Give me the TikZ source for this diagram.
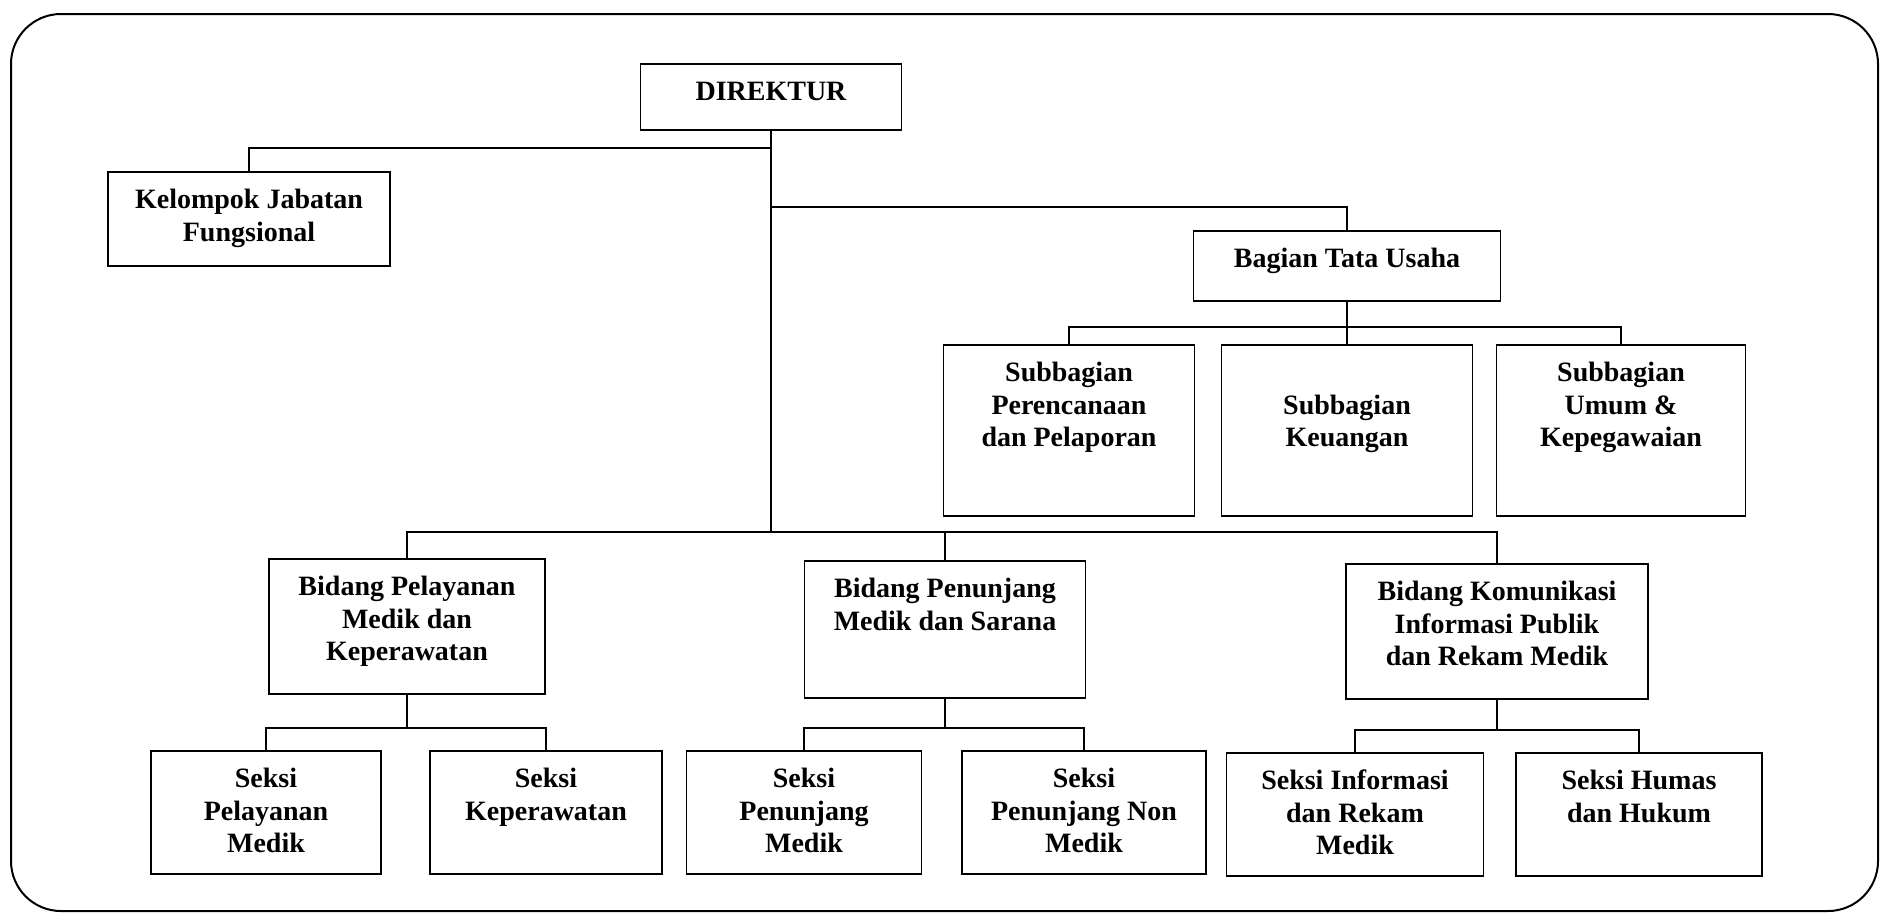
\documentclass[tikz,border=0pt]{standalone}
\usepackage{fontspec}
\setmainfont{Liberation Serif}
\usetikzlibrary{positioning,calc}

\begin{document}
\begin{tikzpicture}[
    x=0.5pt, y=-0.5pt,
    every node/.style={font=\fontsize{14}{16.25}\selectfont\bfseries},
    box/.style 2 args={draw, line width=0.9pt, inner sep=0pt, anchor=north, align=center, text height=#1, text depth=#2},
    link/.style={line width=0.8pt},
]
    \useasboundingbox (0,0) rectangle (1882,916);
    \draw[line width=1pt, rounded corners=25pt] (11,14) rectangle (1878,911);

    % TOP
    \node[box={18.5pt}{14.5pt}, minimum width=130.5pt] (dir) at (771,63) {DIREKTUR};
    \node[box={34.75pt}{12.25pt}, minimum width=141pt] (kel) at (249,171) {Kelompok Jabatan\\Fungsional};
    \node[box={18.5pt}{16.5pt}, minimum width=153.5pt] (bag) at (1347,230) {Bagian Tata Usaha};

    % SUBBAGIAN
    \node[box={51pt}{34.5pt}, minimum width=125.5pt] (sub1) at (1069,344) {Subbagian\\Perencanaan\\dan Pelaporan};
    \node[box={51pt}{34.5pt}, minimum width=125.5pt] (sub2) at (1347,344) {Subbagian\\Keuangan};
    \node[box={51pt}{34.5pt}, minimum width=124.5pt] (sub3) at (1621,344) {Subbagian\\Umum \&\\Kepegawaian};

    % BIDANG
    \node[box={51pt}{16.5pt}, minimum width=138pt] (bid1) at (407,558) {Bidang Pelayanan\\Medik dan\\Keperawatan};
    \node[box={34.75pt}{33.75pt}, minimum width=140.5pt] (bid2) at (945,560) {Bidang Penunjang\\Medik dan Sarana};
    \node[box={51pt}{16.5pt}, minimum width=151pt] (bid3) at (1497,563) {Bidang Komunikasi\\Informasi Publik\\dan Rekam Medik};

    % SEKSI
    \node[box={51pt}{10.5pt}, minimum width=115pt] (sk1) at (266,750) {Seksi\\Pelayanan\\Medik};
    \node[box={34.75pt}{26.75pt}, minimum width=116pt] (sk2) at (546,750) {Seksi\\Keperawatan};
    \node[box={51pt}{10.5pt}, minimum width=117.5pt] (sk3) at (804,750) {Seksi\\Penunjang\\Medik};
    \node[box={51pt}{10.5pt}, minimum width=122pt] (sk4) at (1084,750) {Seksi\\Penunjang Non\\Medik};
    \node[box={51pt}{10.5pt}, minimum width=128.5pt] (sk5) at (1355,752) {Seksi Informasi\\dan Rekam\\Medik};
    \node[box={34.75pt}{26.75pt}, minimum width=123pt] (sk6) at (1639,752) {Seksi Humas\\dan Hukum};

    % junctions
    \coordinate (jkel) at (771,148);
    \coordinate (jbag) at (771,207);
    \coordinate (jbid) at (771,532);
    \coordinate (jsub) at (1347,327);
    \coordinate (jsk1) at (407,728);
    \coordinate (jsk2) at (945,728);
    \coordinate (jsk3) at (1497,730);

    % connectors
    \draw[link] (dir.south) -- (jbid);
    \draw[link] (jkel) -| (kel.north);
    \draw[link] (jbag) -| (bag.north);
    \draw[link] (bag.south) -- (jsub) -- (sub2.north);
    \draw[link] (sub1.north) |- (jsub) -| (sub3.north);
    \draw[link] (bid1.north) |- (jbid) -| (bid3.north);
    \draw[link] (jbid) -| (bid2.north);
    \draw[link] (bid1.south) -- (jsk1);
    \draw[link] (sk1.north) |- (jsk1) -| (sk2.north);
    \draw[link] (bid2.south) -- (jsk2);
    \draw[link] (sk3.north) |- (jsk2) -| (sk4.north);
    \draw[link] (bid3.south) -- (jsk3);
    \draw[link] (sk5.north) |- (jsk3) -| (sk6.north);
\end{tikzpicture}
\end{document}
